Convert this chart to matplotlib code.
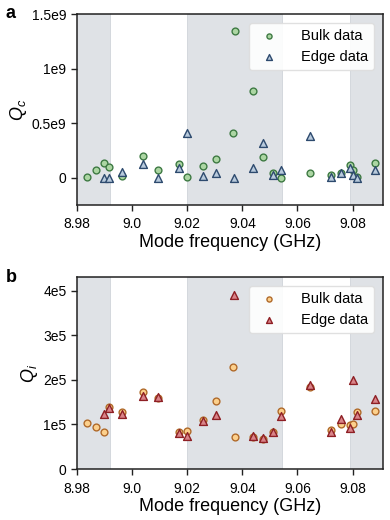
import matplotlib
matplotlib.use("Agg")
import matplotlib.pyplot as plt
import numpy as np

plt.rcParams['font.family'] = ['Liberation Sans', 'DejaVu Sans']
plt.rcParams['mathtext.fontset'] = 'custom'
plt.rcParams['mathtext.rm'] = 'Liberation Sans'
plt.rcParams['mathtext.it'] = 'Liberation Sans:italic'

# ---- data ----
bulk_freq = [8.9837, 8.9869, 8.9898, 8.9917, 8.9965, 9.0041, 9.0096, 9.0170,
             9.0200, 9.0258, 9.0304, 9.0368, 9.0374, 9.0440, 9.0475, 9.0510,
             9.0542, 9.0646, 9.0723, 9.0757, 9.0789, 9.0801, 9.0817, 9.0882]
bulk_qc = [0.010e9, 0.070e9, 0.136e9, 0.100e9, 0.014e9, 0.200e9, 0.069e9, 0.124e9,
           0.010e9, 0.110e9, 0.170e9, 0.407e9, 1.340e9, 0.790e9, 0.190e9, 0.044e9,
           0.000e9, 0.039e9, 0.023e9, 0.040e9, 0.120e9, 0.070e9, 0.005e9, 0.136e9]
bulk_qi = [1.035e5, 0.94e5, 0.82e5, 1.38e5, 1.28e5, 1.73e5, 1.60e5, 0.82e5,
           0.86e5, 1.11e5, 1.52e5, 2.28e5, 0.71e5, 0.71e5, 0.68e5, 0.83e5,
           1.31e5, 1.84e5, 0.88e5, 1.02e5, 0.99e5, 1.00e5, 1.27e5, 1.30e5]

edge_freq = [8.9898, 8.9917, 8.9965, 9.0041, 9.0096, 9.0170, 9.0200, 9.0258,
             9.0304, 9.0370, 9.0440, 9.0475, 9.0510, 9.0542, 9.0646, 9.0723,
             9.0757, 9.0789, 9.0801, 9.0817, 9.0882]
edge_qc = [0.000e9, 0.000e9, 0.053e9, 0.124e9, 0.000e9, 0.085e9, 0.410e9, 0.014e9,
           0.044e9, 0.000e9, 0.085e9, 0.315e9, 0.023e9, 0.069e9, 0.385e9, 0.002e9,
           0.040e9, 0.085e9, 0.023e9, 0.000e9, 0.069e9]
edge_qi = [1.24e5, 1.36e5, 1.23e5, 1.63e5, 1.62e5, 0.80e5, 0.75e5, 1.08e5,
           1.22e5, 3.90e5, 0.74e5, 0.70e5, 0.82e5, 1.19e5, 1.88e5, 0.82e5,
           1.12e5, 0.92e5, 1.99e5, 1.22e5, 1.56e5]

bands = [(8.975, 8.992), (9.020, 9.0545), (9.0792, 9.10)]

xticks = [8.98, 9.00, 9.02, 9.04, 9.06, 9.08]
xticklabels = ['8.98', '9.0', '9.02', '9.04', '9.06', '9.08']
qc_ticks = [0, 0.5e9, 1e9, 1.5e9]
qc_labels = ['0', '0.5e9', '1e9', '1.5e9']
qi_ticks = [0, 1e5, 2e5, 3e5, 4e5]
qi_labels = ['0', '1e5', '2e5', '3e5', '4e5']

fig = plt.figure(figsize=(3.9, 5.2), dpi=100)
axa = fig.add_axes([0.197, 0.606, 0.785, 0.367])
axb = fig.add_axes([0.197, 0.098, 0.785, 0.369])

def style(ax):
    for b0, b1 in bands:
        ax.axvspan(b0, b1, facecolor='#dfe2e6', edgecolor='#cfd4da', lw=0.6, zorder=0)
    for s in ax.spines.values():
        s.set_color('#222222')
        s.set_linewidth(1.1)
    ax.set_xlim(8.98, 9.091)
    ax.set_xticks(xticks)
    ax.set_xticklabels(xticklabels)
    ax.tick_params(axis='both', labelsize=10, length=4, width=1, color='#222222', direction='out')
    ax.tick_params(axis='x', pad=5)
    ax.set_xlabel('Mode frequency (GHz)', fontsize=13, labelpad=2)

ms = 24
# panel a
style(axa)
axa.scatter(bulk_freq, bulk_qc, s=ms, marker='o', facecolor='#acd6a3', edgecolor='#3e7a43', linewidth=1.0, zorder=3, label='Bulk data')
axa.scatter(edge_freq, edge_qc, s=ms+8, marker='^', facecolor='#b8cadc', edgecolor='#2d4a6e', linewidth=1.0, zorder=3, label='Edge data')
axa.set_ylim(-0.25e9, 1.5e9)
axa.set_yticks(qc_ticks)
axa.set_yticklabels(qc_labels)
axa.set_ylabel('$Q_c$', fontsize=13, labelpad=2)
axa.legend(loc='upper right', fontsize=10.5, markerscale=0.75, handletextpad=1.2,
           frameon=True, framealpha=0.9, edgecolor='#dddddd', borderaxespad=0.6)

# panel b
style(axb)
axb.scatter(bulk_freq, bulk_qi, s=ms, marker='o', facecolor='#fcd08c', edgecolor='#b06a2a', linewidth=1.0, zorder=3, label='Bulk data')
axb.scatter(edge_freq, edge_qi, s=ms+8, marker='^', facecolor='#d98489', edgecolor='#8e1f24', linewidth=1.0, zorder=4, label='Edge data')
axb.set_ylim(0, 4.3e5)
axb.set_yticks(qi_ticks)
axb.set_yticklabels(qi_labels)
axb.set_ylabel('$Q_i$', fontsize=13, labelpad=2)
axb.legend(loc='upper right', fontsize=10.5, markerscale=0.75, handletextpad=1.2,
           frameon=True, framealpha=0.9, edgecolor='#dddddd', borderaxespad=0.6)

fig.text(0.015, 1 - 14/520, 'a', fontsize=13, fontweight='bold', va='center', ha='left')
fig.text(0.015, 1 - 277/520, 'b', fontsize=13, fontweight='bold', va='center', ha='left')

fig.savefig('out.png', dpi=100)
